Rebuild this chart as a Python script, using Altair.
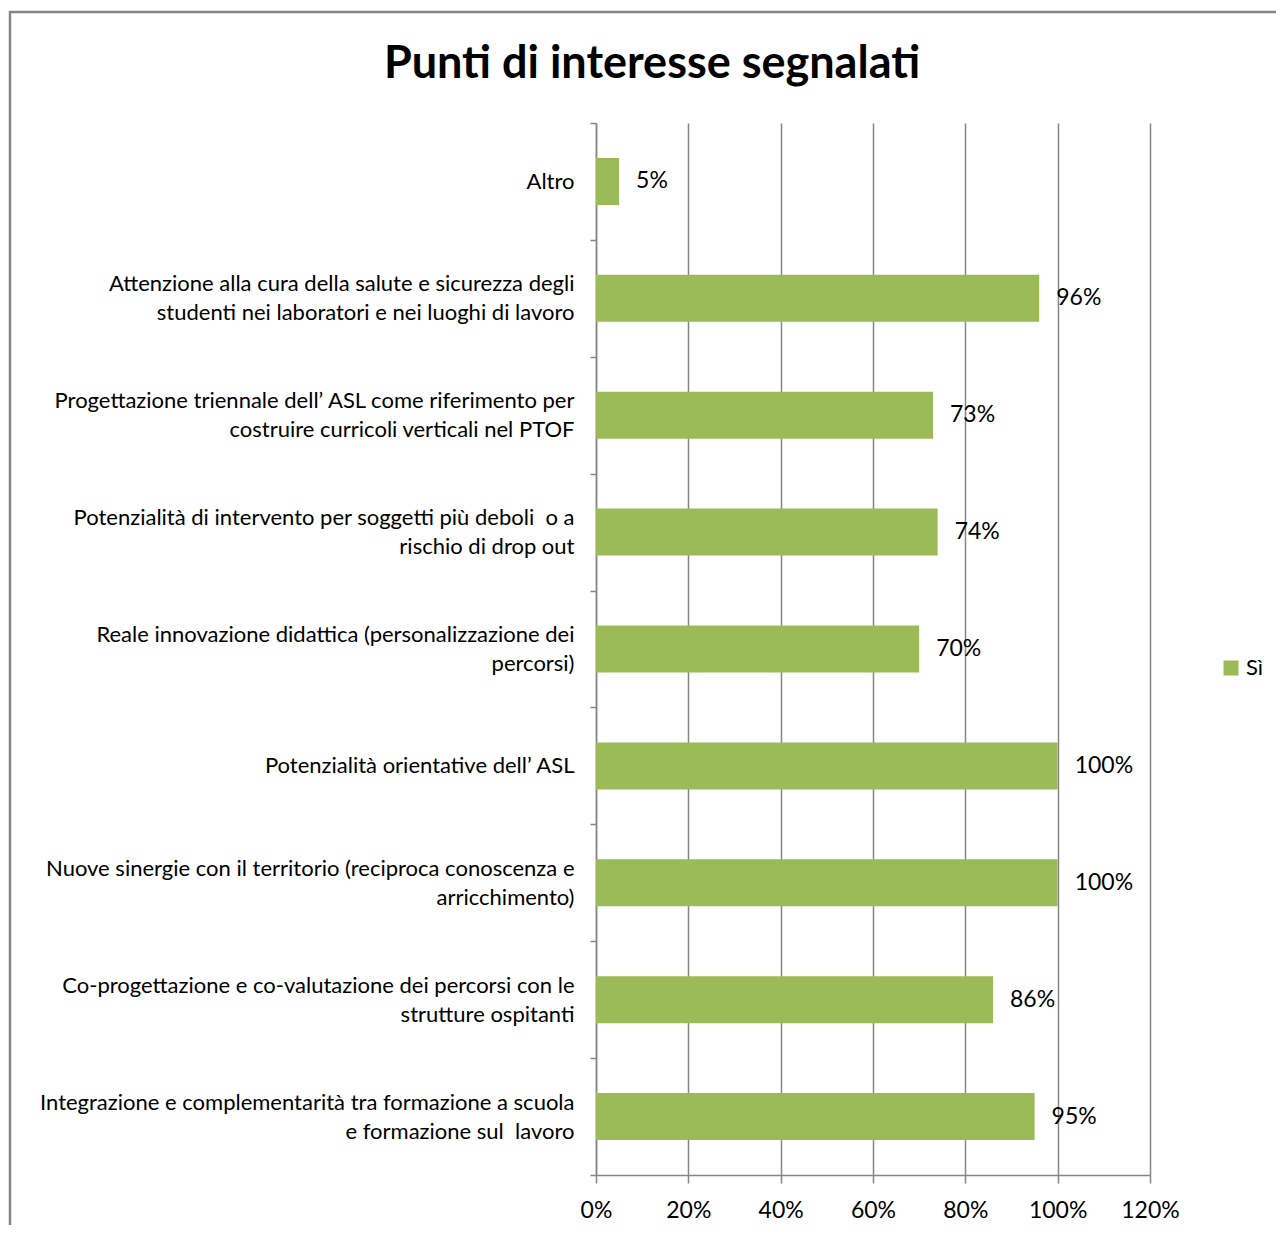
import altair as alt
import pandas as pd

categories = [
    "Altro",
    "Attenzione alla cura della salute e sicurezza degli|studenti nei laboratori e nei luoghi di lavoro",
    "Progettazione triennale dell’ ASL come riferimento per|costruire curricoli verticali nel PTOF",
    "Potenzialità di intervento per soggetti più deboli\u00a0 o a|rischio di drop out",
    "Reale innovazione didattica (personalizzazione dei|percorsi)",
    "Potenzialità orientative dell’ ASL",
    "Nuove sinergie con il territorio (reciproca conoscenza e|arricchimento)",
    "Co-progettazione e co-valutazione dei percorsi con le|strutture ospitanti",
    "Integrazione e complementarità tra formazione a scuola|e formazione sul\u00a0 lavoro",
]
values = [0.05, 0.96, 0.73, 0.74, 0.70, 1.00, 1.00, 0.86, 0.95]
series = ["Sì"] * len(categories)
x_ticks = [0, 0.2, 0.4, 0.6, 0.8, 1.0, 1.2]
title_text = "Punti di interesse segnalati"

df = pd.DataFrame({"cat": categories, "val": values, "serie": series})

FONT = "Lato"
GREEN = "#9BBB59"
GRAY = "#868686"

y_enc = alt.Y(
    "cat:N",
    sort=categories,
    title=None,
    scale=alt.Scale(paddingInner=0, paddingOuter=0),
    axis=alt.Axis(
        labelExpr="isString(datum.value) ? split(datum.value, '|') : ''",
        labelFontSize=22,
        labelFont=FONT,
        labelColor="#000000",
        labelLineHeight=29,
        labelPadding=16,
        labelLimit=0,
        labelOffset={
            "condition": {
                "test": "isString(datum.value) && indexof(datum.value, '|') >= 0",
                "value": -14.5,
            },
            "value": 0,
        },
        tickBand="extent",
        tickSize=6,
        tickColor=GRAY,
        tickWidth=1.5,
        domainColor=GRAY,
        domainWidth=1.5,
        grid=False,
    ),
)
x_enc = alt.X(
    "val:Q",
    title=None,
    scale=alt.Scale(domain=[0, 1.2], nice=False),
    axis=alt.Axis(
        values=x_ticks,
        format=".0%",
        labelFontSize=23,
        labelFont=FONT,
        labelColor="#000000",
        labelPadding=16,
        labelFlush=False,
        tickSize=8,
        tickColor=GRAY,
        tickWidth=1.5,
        domainColor=GRAY,
        domainWidth=1.5,
        grid=True,
        gridColor=GRAY,
        gridWidth=1.5,
        gridOpacity=1,
    ),
)

bars = alt.Chart(df).mark_bar(color=GREEN, size=47).encode(
    x=x_enc,
    y=y_enc,
    color=alt.Color(
        "serie:N",
        scale=alt.Scale(range=[GREEN]),
        legend=alt.Legend(
            title=None,
            orient="none",
            legendX=624,
            legendY=534,
            symbolType="square",
            symbolSize=225,
            symbolStrokeWidth=0,
            labelFontSize=22,
            labelFont=FONT,
            labelColor="#000000",
        ),
    ),
)

labels = alt.Chart(df).mark_text(
    align="left", baseline="middle", dx=17, fontSize=23, font=FONT, color="#000000"
).encode(
    x=alt.X("val:Q"),
    y=alt.Y("cat:N", sort=categories),
    text=alt.Text("val:Q", format=".0%"),
)

frame = alt.Chart(pd.DataFrame({"a": [0]})).mark_rect(
    fill=None, stroke=GRAY, strokeWidth=2.5, clip=False
).encode(
    x=alt.value(-586), x2=alt.value(700), y=alt.value(-111), y2=alt.value(1130)
)

title = alt.Chart(pd.DataFrame({"t": [title_text]})).mark_text(
    align="center", baseline="alphabetic", fontSize=45, font=FONT, fontWeight="bold",
    color="#000000", clip=False
).encode(
    x=alt.value(56), y=alt.value(-45), text="t:N"
)

chart = alt.layer(frame, bars, labels, title).properties(
    width=554,
    height=1052,
    padding={"left": 588, "top": 115, "right": 126, "bottom": 50},
    autosize=alt.AutoSizeParams(type="none"),
).configure_view(stroke=None)

chart.save("out.html", embed_options={"renderer": "svg", "actions": False})
